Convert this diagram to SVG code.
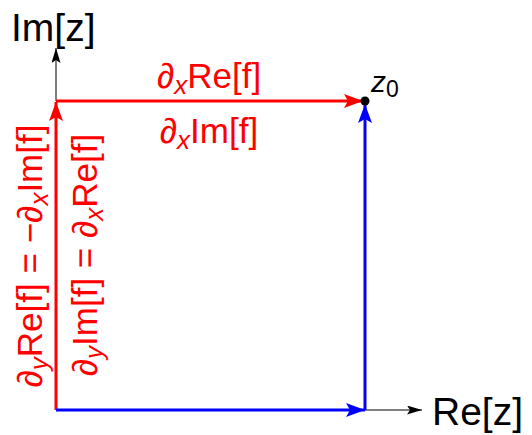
<svg xmlns="http://www.w3.org/2000/svg" width="532" height="435" viewBox="0 0 532 435">
<style>
text{font-family:"Liberation Sans",Arial,sans-serif}
.ax{stroke:#555;stroke-width:1.5;fill:none}
.red{stroke:#ff0000;stroke-width:3;fill:none}
.blue{stroke:#0000ff;stroke-width:3;fill:none}
.lbl{font-size:39px;fill:#000}
.rl{font-size:35px;fill:#ff0000}
.it{font-style:italic}
.sub{font-style:italic;font-size:26px}
</style>
<defs>
<marker id="ga" markerUnits="userSpaceOnUse" markerWidth="16" markerHeight="10" refX="15" refY="4.5" orient="auto"><path d="M0,0 L15,4.5 L0,9 L3,4.5 Z" fill="#000"/></marker>
<marker id="ra" markerUnits="userSpaceOnUse" markerWidth="20" markerHeight="16" refX="19" refY="7" orient="auto"><path d="M0,0 L19,7 L0,14 L4,7 Z" fill="#ff0000"/></marker>
<marker id="ba" markerUnits="userSpaceOnUse" markerWidth="20" markerHeight="16" refX="19" refY="7" orient="auto"><path d="M0,0 L19,7 L0,14 L4,7 Z" fill="#0000ff"/></marker>
</defs>
<g id="connectors">
<line class="ax" x1="56" y1="101" x2="56" y2="48" marker-end="url(#ga)"/>
<line class="ax" x1="365" y1="410" x2="422" y2="410" marker-end="url(#ga)"/>
<line class="red" x1="56" y1="101" x2="363" y2="101" marker-end="url(#ra)"/>
<line class="red" x1="56" y1="410" x2="56" y2="102" marker-end="url(#ra)"/>
<line class="blue" x1="56" y1="410" x2="365" y2="410" marker-end="url(#ba)"/>
<line class="blue" x1="365" y1="410" x2="365" y2="104" marker-end="url(#ba)"/>
</g>
<g id="im-axis-label"><text class="lbl" x="11" y="41">Im[z]</text></g>
<g id="re-axis-label"><text class="lbl" x="432" y="425">Re[z]</text></g>
<g id="z0"><circle cx="365" cy="101" r="4.5" fill="#000"/><text x="371" y="92" font-size="30" font-style="italic">z<tspan font-style="normal" font-size="23" dy="5">0</tspan></text></g>
<g id="label-dxre"><text class="rl" x="209" y="88" text-anchor="middle"><tspan class="it">∂</tspan><tspan class="sub" dy="6">x</tspan><tspan dy="-6">Re[f]</tspan></text></g>
<g id="label-dxim"><text class="rl" x="209" y="143" text-anchor="middle"><tspan class="it">∂</tspan><tspan class="sub" dy="6">x</tspan><tspan dy="-6">Im[f]</tspan></text></g>
<g id="label-cr1"><text class="rl" transform="translate(42,256) rotate(-90)" text-anchor="middle"><tspan class="it">∂</tspan><tspan class="sub" dy="6">y</tspan><tspan dy="-6">Re[f] = −</tspan><tspan class="it">∂</tspan><tspan class="sub" dy="6">x</tspan><tspan dy="-6">Im[f]</tspan></text></g>
<g id="label-cr2"><text class="rl" transform="translate(97,255) rotate(-90)" text-anchor="middle"><tspan class="it">∂</tspan><tspan class="sub" dy="6">y</tspan><tspan dy="-6">Im[f] = </tspan><tspan class="it">∂</tspan><tspan class="sub" dy="6">x</tspan><tspan dy="-6">Re[f]</tspan></text></g>
</svg>
